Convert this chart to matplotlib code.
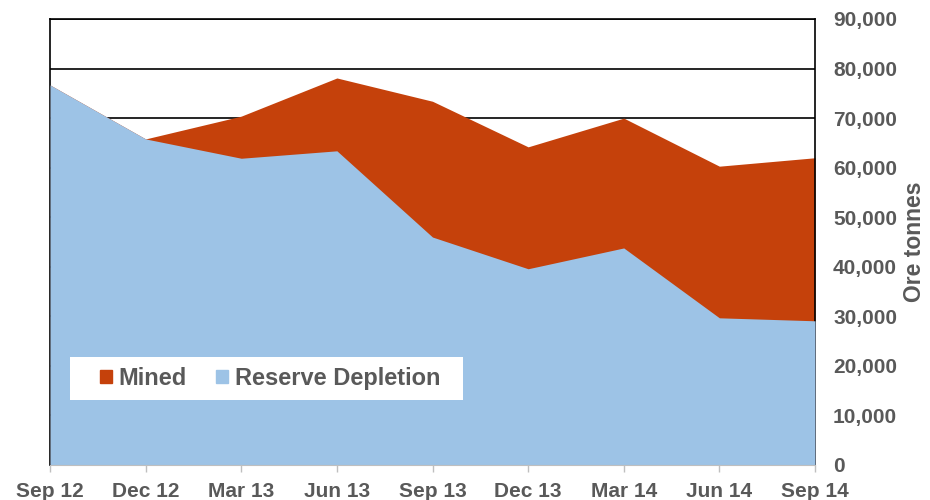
import matplotlib.pyplot as plt
from matplotlib.patches import Patch, Rectangle

# quarters and ore tonnes
quarters = ['Sep 12', 'Dec 12', 'Mar 13', 'Jun 13', 'Sep 13', 'Dec 13', 'Mar 14', 'Jun 14', 'Sep 14']
mined = [76700, 65800, 70400, 78100, 73400, 64200, 70000, 60300, 62000]
reserve_depletion = [76700, 65800, 61900, 63400, 46000, 39600, 43800, 29700, 29100]

cor_mined = '#C5410B'
cor_reserva = '#9DC3E6'
cinza = '#595959'

plt.rcParams['font.family'] = ['Liberation Sans', 'DejaVu Sans']
plt.rcParams['font.weight'] = 'bold'

fig = plt.figure(figsize=(9.3, 5), dpi=100)
ax = fig.add_axes([50/930, 35/500, 765/930, 446/500])

x = range(len(quarters))
ax.fill_between(x, mined, color=cor_mined, linewidth=0, zorder=2)
ax.fill_between(x, reserve_depletion, color=cor_reserva, linewidth=0, zorder=3)

ax.set_xlim(0, len(quarters) - 1)
ax.set_ylim(0, 90000)
ax.set_yticks(range(0, 90001, 10000))
ax.yaxis.set_major_formatter(plt.FuncFormatter(lambda v, p: f'{int(v):,}'))
ax.yaxis.tick_right()
ax.yaxis.set_label_position('right')
ax.tick_params(axis='y', length=0, pad=13, labelsize=15, labelcolor=cinza)
ax.tick_params(axis='x', length=5, color='#BFBFBF', width=1, pad=7, labelsize=15, labelcolor=cinza)
ax.set_xticks(list(x))
ax.set_xticklabels(quarters)
ax.set_ylabel('Ore tonnes', fontsize=16.5, color=cinza, fontweight='bold', labelpad=4)

ax.grid(axis='y', color='black', linewidth=1.2, zorder=1)
ax.set_axisbelow(True)
for lado in ['top', 'right', 'left']:
    ax.spines[lado].set_color('black')
    ax.spines[lado].set_linewidth(1.2)
ax.spines['bottom'].set_color('#BFBFBF')
ax.spines['bottom'].set_zorder(4)

# caixa branca da legenda
caixa = Rectangle((20/765, 65/446), 393/765, 43/446, transform=ax.transAxes,
                  facecolor='white', edgecolor='none', zorder=5)
ax.add_patch(caixa)

handles = [Patch(color=cor_mined, label='Mined'), Patch(color=cor_reserva, label='Reserve Depletion')]
leg = ax.legend(handles=handles, ncol=2, loc='center left', bbox_to_anchor=(50/765, 86.5/446),
                frameon=False, fontsize=17, handlelength=0.5, handleheight=0.5, handletextpad=0.28,
                columnspacing=1.25, borderpad=0, borderaxespad=0)
leg.set_zorder(6)
for t in leg.get_texts():
    t.set_color(cinza)
    t.set_fontweight('bold')

fig.savefig('out.png', dpi=100)
